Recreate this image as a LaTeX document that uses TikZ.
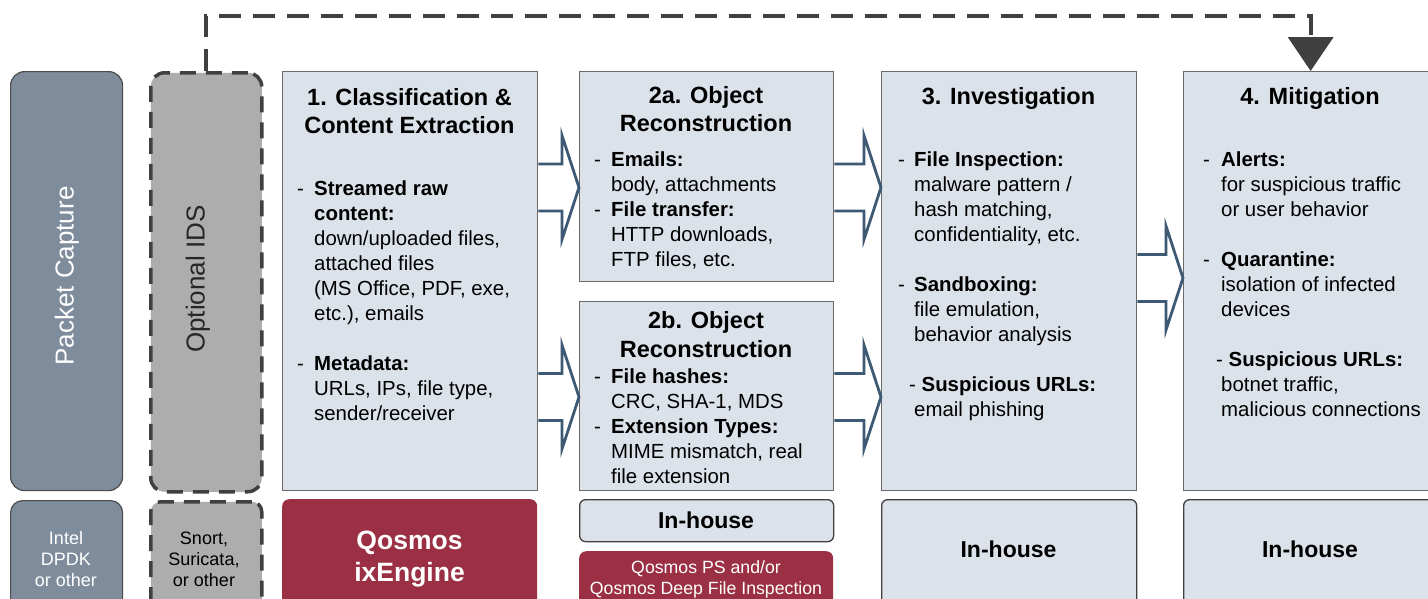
\documentclass[tikz,border=0pt]{standalone}
\usepackage{fontspec}
\setmainfont{Liberation Sans}
\usetikzlibrary{arrows.meta,calc}
\definecolor{slate}{HTML}{7F8C9C}
\definecolor{idsgray}{HTML}{ADADAD}
\definecolor{boxfill}{HTML}{DCE2EA}
\definecolor{boxline}{HTML}{6A6A6A}
\definecolor{qred}{HTML}{9B3044}
\definecolor{arrowblue}{HTML}{3E5973}
\definecolor{dashgray}{HTML}{404040}
\newcommand\itm[2][17pt]{\makebox[#1][l]{-}\textbf{#2}}
\newcommand\cnt[1][17pt]{\hspace*{#1}}
\newcommand\lns[2]{\begin{tabular}[t]{@{}#1@{}}#2\end{tabular}}
\newcommand\barrow[3]{%
  \coordinate (#1#2s) at (#1.east |- 0,#3);
  \coordinate (#1#2t) at (#2.west |- 0,#3);
  \draw[blockarrow] ($(#1#2s)+(0,-23.5)$) -- ($(#1#2t)+(-17,-23.5)$) -- ($(#1#2t)+(-17,-52)$) -- (#1#2t)
     -- ($(#1#2t)+(-17,52)$) -- ($(#1#2t)+(-17,23.5)$) -- ($(#1#2s)+(0,23.5)$);
}
\begin{document}
\begin{tikzpicture}[x=1pt,y=-1pt,
  stage/.style={draw=boxline, line width=1.3pt, fill=boxfill, inner sep=0pt, anchor=north west},
  sidebox/.style={draw=black!70, line width=1.2pt, fill=slate, rounded corners=14pt, inner sep=0pt, anchor=north west},
  idsbox/.style={draw=dashgray, line width=3.5pt, dash pattern=on 16pt off 10pt, fill=idsgray, rounded corners=14pt, inner sep=0pt, anchor=north west},
  redbox/.style={fill=qred, rounded corners=7pt, inner sep=0pt, anchor=north west},
  housebox/.style={draw=black!75, line width=1.3pt, fill=boxfill, rounded corners=6pt, inner sep=0pt, anchor=north west},
  title/.style={font=\fontsize{23.5}{28}\selectfont\bfseries, anchor=base, inner sep=0pt},
  body/.style={font=\fontsize{20.4}{25}\selectfont, anchor=base west, inner sep=0pt},
  small/.style={font=\fontsize{18}{21}\selectfont, align=center, inner sep=0pt},
  blockarrow/.style={draw=arrowblue, line width=2.8pt, fill=white, line join=miter},
  feedback/.style={draw=dashgray, line width=4pt, dash pattern=on 22pt off 12pt, -{Triangle[width=45pt,length=34pt]}},
]
\useasboundingbox (0,0) rectangle (1428,598);
\clip (0,0) rectangle (1428,598);
\fill[white] (0,0) rectangle (1428,598);

% top row
\node[sidebox, minimum width=112pt, minimum height=419pt] (pc) at (10,71) {};
\node[idsbox, minimum width=111pt, minimum height=419pt] (ids) at (149,71) {};
\node[stage, minimum width=255pt, minimum height=419pt] (b1) at (282,71) {};
\node[stage, minimum width=254pt, minimum height=210pt] (b2a) at (579,71) {};
\node[stage, minimum width=254pt, minimum height=189pt] (b2b) at (579,301) {};
\node[stage, minimum width=255pt, minimum height=419pt] (b3) at (881,71) {};
\node[stage, minimum width=254pt, minimum height=419pt] (b4) at (1183,71) {};

% bottom row
\node[sidebox, rounded corners=12pt, minimum width=112pt, minimum height=130pt] (intel) at (10,500) {};
\node[idsbox, rounded corners=10pt, minimum width=111pt, minimum height=130pt] (snort) at (149,500) {};
\node[redbox, minimum width=255pt, minimum height=130pt] (qix) at (282,499) {};
\node[housebox, minimum width=254pt, minimum height=42pt] (ih2) at (579,499) {};
\node[redbox, minimum width=254pt, minimum height=80pt] (qps) at (579,551) {};
\node[housebox, minimum width=255pt, minimum height=130pt] (ih3) at (881,499) {};
\node[housebox, minimum width=254pt, minimum height=130pt] (ih4) at (1183,499) {};

% side labels
\node[rotate=90, text=white, font=\fontsize{26}{30}\selectfont, inner sep=0pt] (pcl) at (67,276) {Packet Capture};
\node[rotate=90, text=black!85, font=\fontsize{26}{30}\selectfont, inner sep=0pt] (idsl) at (198,279) {Optional IDS};

% titles
\node[title] (t1) at (409.5,105) {\lns{c}{1. Classification \&\\Content Extraction}};
\node[title] (t2a) at (706,103) {\lns{c}{2a. Object\\Reconstruction}};
\node[title, font=\fontsize{23.5}{29}\selectfont\bfseries] (t2b) at (706,328) {\lns{c}{2b. Object\\Reconstruction}};
\node[title] (t3) at (1008.5,104) {3. Investigation};
\node[title] (t4) at (1310,104) {4. Mitigation};

% bodies
\node[body] (x1) at (297,195) {\lns{l}{\itm{Streamed raw}\\
\cnt\textbf{content:}\\
\cnt down/uploaded files,\\
\cnt attached files\\
\cnt (MS Office, PDF, exe,\\
\cnt etc.), emails\\[25pt]
\itm{Metadata:}\\
\cnt URLs, IPs, file type,\\
\cnt sender/receiver}};

\node[body] (x2a) at (594,166) {\lns{l}{\itm{Emails:}\\
\cnt body, attachments\\
\itm{File transfer:}\\
\cnt HTTP downloads,\\
\cnt FTP files, etc.}};

\node[body] (x2b) at (594,383) {\lns{l}{\itm{File hashes:}\\
\cnt CRC, SHA-1, MDS\\
\itm{Extension Types:}\\
\cnt MIME mismatch, real\\
\cnt file extension}};

\node[body] (x3) at (898,166) {\lns{l}{\itm[16pt]{File Inspection:}\\
\cnt[16pt]malware pattern /\\
\cnt[16pt]hash matching,\\
\cnt[16pt]confidentiality, etc.\\[25pt]
\itm[16pt]{Sandboxing:}\\
\cnt[16pt]file emulation,\\
\cnt[16pt]behavior analysis\\[25pt]
\hspace*{11pt}- \textbf{Suspicious URLs:}\\
\cnt[16pt]email phishing}};

\node[body] (x4) at (1203,166) {\lns{l}{\itm[18pt]{Alerts:}\\
\cnt[18pt]for suspicious traffic\\
\cnt[18pt]or user behavior\\[25pt]
\itm[18pt]{Quarantine:}\\
\cnt[18pt]isolation of infected\\
\cnt[18pt]devices\\[25pt]
\hspace*{13pt}- \textbf{Suspicious URLs:}\\
\cnt[18pt]botnet traffic,\\
\cnt[18pt]malicious connections}};

% bottom labels
\node[small, text=white] (intell) at (66,559) {Intel\\DPDK\\or other};
\node[small, text=black] (snortl) at (204,559) {Snort,\\Suricata,\\or other};
\node[text=white, font=\fontsize{26.5}{32}\selectfont\bfseries, align=center, inner sep=0pt] (qixl) at (409.5,559) {Qosmos\\ixEngine};
\node[font=\fontsize{23}{27}\selectfont\bfseries, inner sep=0pt] (ih2l) at (706,520) {In-house};
\node[text=white, font=\fontsize{17.7}{21}\selectfont, align=center, inner sep=0pt] (qpsl) at (706,579) {Qosmos PS and/or\\Qosmos Deep File Inspection};
\node[font=\fontsize{23}{27}\selectfont\bfseries, inner sep=0pt] (ih3l) at (1008.5,549) {In-house};
\node[font=\fontsize{23}{27}\selectfont\bfseries, inner sep=0pt] (ih4l) at (1310,549) {In-house};

% block arrows
\barrow{b1}{b2a}{187.5}
\barrow{b1}{b2b}{397}
\barrow{b2a}{b3}{187.5}
\barrow{b2b}{b3}{397}
\barrow{b3}{b4}{278}

% feedback dashed connector
\draw[feedback] (ids.north) -- ++(0,-55) -| (b4.north);
\end{tikzpicture}
\end{document}
